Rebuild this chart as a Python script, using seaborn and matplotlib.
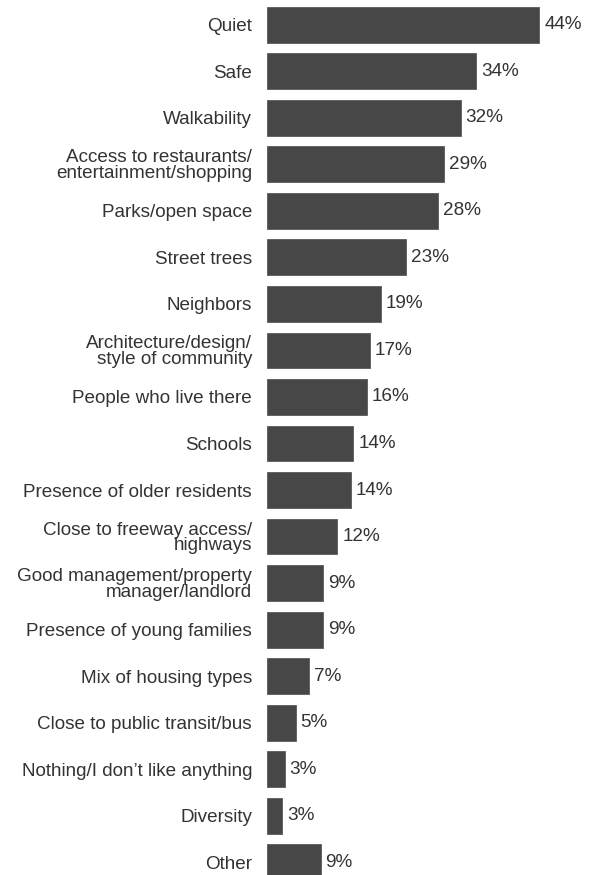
import matplotlib
matplotlib.use("Agg")
import matplotlib.pyplot as plt
import seaborn as sns
import pandas as pd

# Categories, bar lengths and printed labels
categories = [
    "Quiet", "Safe", "Walkability",
    "Access to restaurants/\nentertainment/shopping",
    "Parks/open space", "Street trees", "Neighbors",
    "Architecture/design/\nstyle of community",
    "People who live there", "Schools", "Presence of older residents",
    "Close to freeway access/\nhighways",
    "Good management/property\nmanager/landlord",
    "Presence of young families", "Mix of housing types",
    "Close to public transit/bus", "Nothing/I don\u2019t like anything",
    "Diversity", "Other",
]
values = [44.0, 33.8, 31.3, 28.6, 27.7, 22.5, 18.4, 16.6, 16.2, 14.0,
          13.6, 11.4, 9.1, 9.1, 6.8, 4.7, 2.9, 2.5, 8.7]
pct_labels = ["44%", "34%", "32%", "29%", "28%", "23%", "19%", "17%", "16%",
              "14%", "14%", "12%", "9%", "9%", "7%", "5%", "3%", "3%", "9%"]

df = pd.DataFrame({"category": categories, "value": values})

sns.set_style("white")
plt.rcParams["font.family"] = ["Liberation Sans", "DejaVu Sans"]

W, H = 608, 875
fig = plt.figure(figsize=(W / 100, H / 100), dpi=100)

# place axes so bars line up with the reference (bottom bar is cut off)
left_px, right_px = 266.7, 608
top_px, bottom_px = 1.4, 885.6
ax = fig.add_axes([left_px / W, (H - bottom_px) / H,
                   (right_px - left_px) / W, (bottom_px - top_px) / H])

bar_color = "#474747"
text_color = "#333333"
fs = 13.6

sns.barplot(data=df, x="value", y="category", orient="h", color=bar_color,
            width=0.77, saturation=1, ax=ax, edgecolor="#5a5a5a", linewidth=0.6)

ax.set_xlim(0, (right_px - left_px) / 6.196)
ax.set_ylim(len(categories) - 0.5, -0.5)

ax.bar_label(ax.containers[0], labels=pct_labels, padding=3.5,
             fontsize=fs, color=text_color)

ax.set_xlabel("")
ax.set_ylabel("")
ax.set_xticks([])
ax.tick_params(axis="y", length=0, pad=10.5, labelsize=fs, labelcolor=text_color)
for lab in ax.get_yticklabels():
    lab.set_linespacing(0.9)
    lab.set_horizontalalignment("right")
sns.despine(ax=ax, left=True, bottom=True)

fig.savefig("out.png", dpi=100, facecolor="white")
